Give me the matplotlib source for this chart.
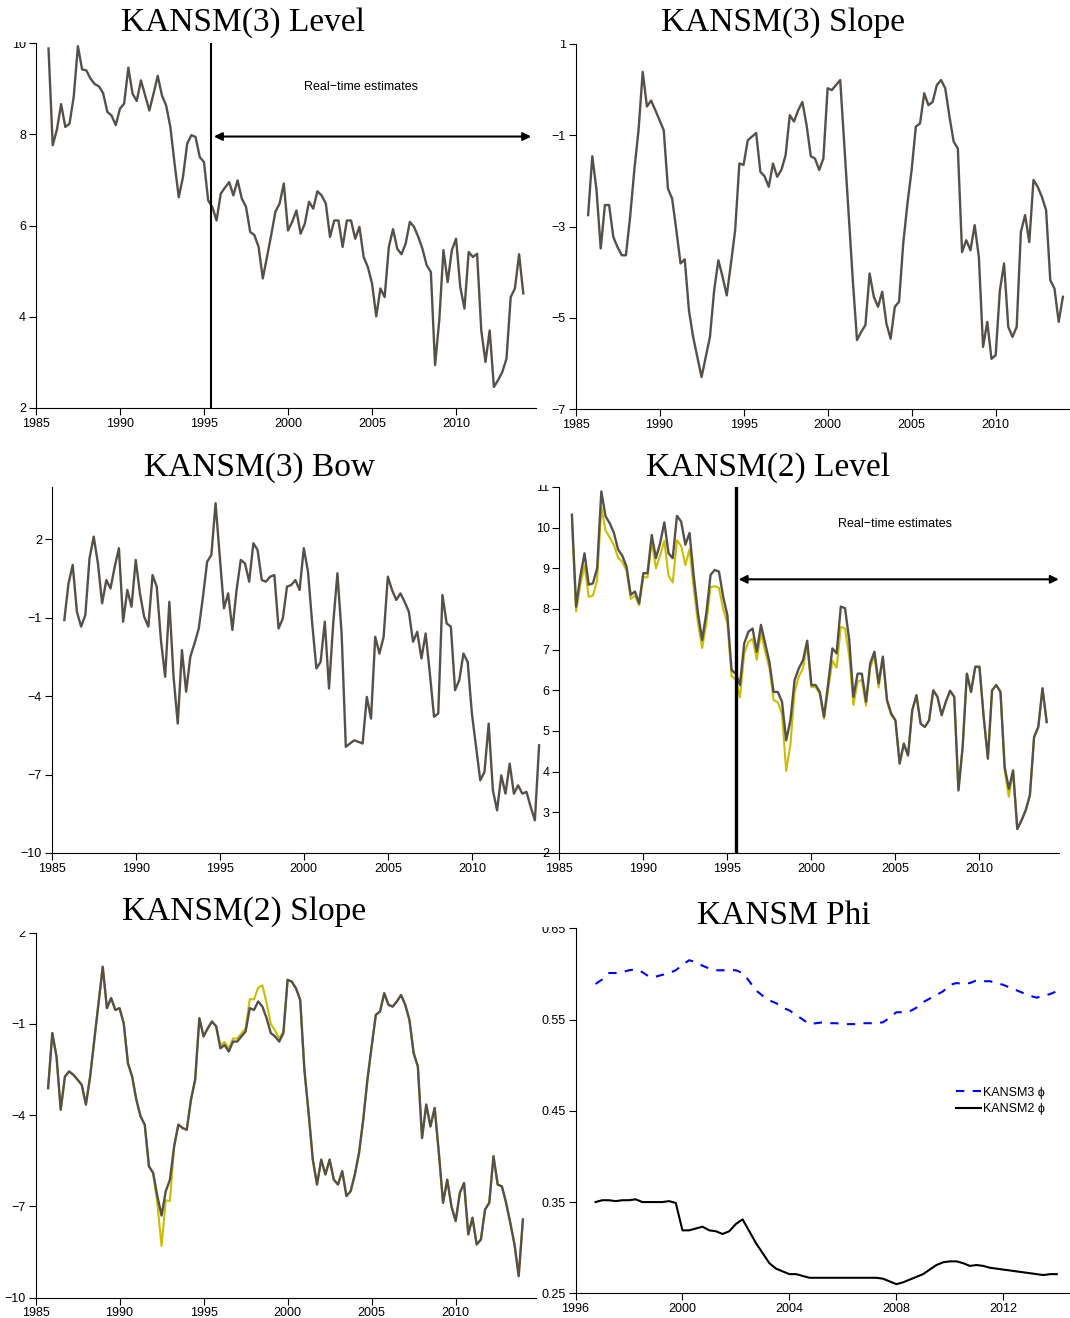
import numpy as np
import matplotlib
matplotlib.use("Agg")
import matplotlib.pyplot as plt
from matplotlib.patches import Rectangle

plt.rcParams['font.family'] = ['Liberation Sans', 'DejaVu Sans']

# quarterly real-time sample
quarters = np.arange(1985.75, 2014.01, 0.25)
phi_quarters = np.arange(1996.75, 2014.01, 0.25)

k3_level = [9.88, 7.76, 8.10, 8.66, 8.16, 8.23, 8.82, 9.93, 9.42, 9.40,
            9.22, 9.10, 9.05, 8.90, 8.49, 8.41, 8.20, 8.56, 8.67, 9.46,
            8.89, 8.73, 9.18, 8.85, 8.52, 8.89, 9.28, 8.85, 8.63, 8.16,
            7.36, 6.62, 7.06, 7.79, 7.98, 7.94, 7.50, 7.39, 6.55, 6.40,
            6.11, 6.70, 6.83, 6.95, 6.66, 6.99, 6.59, 6.41, 5.86, 5.79,
            5.53, 4.84, 5.31, 5.79, 6.30, 6.48, 6.92, 5.89, 6.08, 6.33,
            5.82, 6.04, 6.52, 6.37, 6.75, 6.66, 6.48, 5.75, 6.11, 6.11,
            5.53, 6.11, 6.11, 5.71, 5.97, 5.31, 5.09, 4.73, 4.01, 4.62,
            4.43, 5.53, 5.92, 5.49, 5.37, 5.60, 6.08, 5.97, 5.75, 5.49,
            5.13, 4.98, 2.94, 3.92, 5.46, 4.76, 5.46, 5.71, 4.65, 4.18,
            5.42, 5.31, 5.38, 3.70, 3.01, 3.70, 2.46, 2.61, 2.79, 3.08,
            4.43, 4.62, 5.37, 4.51]

k3_slope = [-2.75, -1.46, -2.20, -3.48, -2.53, -2.53, -3.23, -3.45, -3.63, -3.63,
            -2.79, -1.76, -0.89, 0.39, -0.37, -0.24, -0.45, -0.67, -0.89, -2.17,
            -2.39, -3.08, -3.81, -3.72, -4.84, -5.42, -5.86, -6.30, -5.86, -5.42,
            -4.40, -3.74, -4.10, -4.51, -3.81, -3.08, -1.62, -1.65, -1.11, -1.03,
            -0.95, -1.80, -1.90, -2.13, -1.62, -1.91, -1.76, -1.44, -0.56, -0.70,
            -0.45, -0.27, -0.78, -1.46, -1.51, -1.76, -1.51, 0.03, -0.01, 0.10,
            0.21, -1.25, -2.71, -4.18, -5.49, -5.31, -5.16, -4.03, -4.54, -4.76,
            -4.43, -5.13, -5.46, -4.76, -4.65, -3.37, -2.50, -1.76, -0.81, -0.74,
            -0.08, -0.34, -0.27, 0.10, 0.21, 0.03, -0.59, -1.14, -1.29, -3.56,
            -3.30, -3.52, -2.97, -3.67, -5.64, -5.09, -5.90, -5.82, -4.40, -3.81,
            -5.20, -5.42, -5.20, -3.12, -2.75, -3.34, -1.98, -2.13, -2.35, -2.64,
            -4.18, -4.36, -5.09, -4.54]

k3_bow = [-1.09, 0.31, 1.02, -0.77, -1.34, -0.90, 1.27, 2.10, 1.08, -0.45,
          0.44, 0.12, 0.95, 1.66, -1.15, 0.06, -0.58, 1.21, -0.07, -0.96,
          -1.34, 0.63, 0.19, -1.86, -3.26, -0.39, -3.26, -5.05, -2.24, -3.83,
          -2.49, -1.98, -1.41, -0.20, 1.14, 1.40, 3.38, 1.34, -0.64, -0.07,
          -1.47, 0.06, 1.21, 1.08, 0.38, 1.85, 1.59, 0.44, 0.38, 0.57,
          0.63, -1.41, -1.03, 0.19, 0.25, 0.44, 0.06, 1.66, 0.76, -1.22,
          -2.94, -2.69, -1.15, -3.71, -1.22, 0.70, -1.60, -5.94, -5.81, -5.69,
          -5.75, -5.81, -4.03, -4.86, -1.73, -2.37, -1.73, 0.57, 0.06, -0.32,
          -0.07, -0.39, -0.77, -1.92, -1.54, -2.56, -1.60, -3.13, -4.79, -4.66,
          -0.13, -1.22, -1.34, -3.77, -3.39, -2.37, -2.69, -4.66, -5.94, -7.22,
          -6.90, -5.05, -7.60, -8.37, -7.03, -7.73, -6.58, -7.73, -7.41, -7.73,
          -7.66, -8.24, -8.75, -5.88]

k2_level = [10.32, 8.06, 8.80, 9.37, 8.60, 8.63, 9.00, 10.89, 10.28, 10.11,
            9.87, 9.46, 9.31, 9.04, 8.35, 8.43, 8.14, 8.88, 8.88, 9.82,
            9.25, 9.62, 10.13, 9.37, 9.25, 10.29, 10.15, 9.58, 9.87, 8.80,
            7.90, 7.24, 7.90, 8.84, 8.96, 8.92, 8.30, 7.85, 6.50, 6.41,
            6.13, 7.15, 7.44, 7.52, 6.95, 7.61, 7.15, 6.70, 5.96, 5.96,
            5.72, 4.77, 5.26, 6.25, 6.54, 6.74, 7.22, 6.13, 6.13, 5.96,
            5.35, 6.17, 7.03, 6.91, 8.06, 8.02, 7.24, 5.84, 6.41, 6.41,
            5.72, 6.66, 6.95, 6.17, 6.83, 5.76, 5.43, 5.26, 4.20, 4.69,
            4.40, 5.51, 5.88, 5.18, 5.10, 5.26, 6.00, 5.84, 5.39, 5.72,
            5.99, 5.84, 3.54, 4.61, 6.41, 5.96, 6.58, 6.58, 5.35, 4.32,
            6.00, 6.13, 5.96, 4.11, 3.58, 4.03, 2.59, 2.80, 3.05, 3.42,
            4.85, 5.10, 6.05, 5.22]

# distance of the earliest vintage below the final estimate
k2_level_gap = [0.15, 0.12, 0.20, 0.30, 0.30, 0.30, 0.30, 0.40, 0.35, 0.35,
                0.30, 0.20, 0.15, 0.10, 0.10, 0.10, 0.05, 0.10, 0.10, 0.15,
                0.25, 0.30, 0.45, 0.55, 0.60, 0.60, 0.60, 0.50, 0.40, 0.30,
                0.25, 0.20, 0.25, 0.30, 0.40, 0.40, 0.30, 0.20, 0.15, 0.15,
                0.30, 0.25, 0.25, 0.25, 0.20, 0.20, 0.20, 0.15, 0.20, 0.25,
                0.30, 0.75, 0.60, 0.30, 0.20, 0.20, 0.10, 0.05, 0.05, 0.05,
                0.05, 0.15, 0.30, 0.35, 0.50, 0.50, 0.40, 0.20, 0.20, 0.15,
                0.10, 0.10, 0.10, 0.10, 0.05, 0.05, 0.05, 0.00, 0.00, 0.00,
                0.00, 0.00, 0.00, 0.00, 0.00, 0.00, 0.00, 0.00, 0.00, 0.00,
                0.00, 0.00, 0.00, 0.00, 0.00, 0.00, 0.00, 0.00, 0.00, 0.00,
                0.00, 0.00, 0.00, 0.10, 0.20, 0.00, 0.00, 0.00, 0.00, 0.00,
                0.00, 0.00, 0.00, 0.00]

k2_slope = [-3.11, -1.30, -2.07, -3.82, -2.73, -2.56, -2.67, -2.83, -3.00, -3.65,
            -2.73, -1.52, -0.32, 0.88, -0.48, -0.15, -0.54, -0.48, -0.98, -2.29,
            -2.73, -3.49, -4.04, -4.31, -5.68, -5.90, -6.66, -7.30, -6.50, -6.12,
            -5.02, -4.31, -4.42, -4.48, -3.49, -2.83, -0.81, -1.41, -1.14, -0.92,
            -1.08, -1.80, -1.69, -1.91, -1.58, -1.58, -1.41, -1.25, -0.48, -0.54,
            -0.26, -0.43, -0.81, -1.30, -1.41, -1.58, -1.30, 0.45, 0.39, 0.17,
            -0.21, -2.51, -3.93, -5.46, -6.28, -5.46, -5.95, -5.46, -6.12, -6.28,
            -5.84, -6.66, -6.50, -5.95, -5.24, -4.15, -2.83, -1.74, -0.70, -0.59,
            0.01, -0.37, -0.43, -0.26, -0.05, -0.37, -0.87, -1.96, -2.40, -4.75,
            -3.65, -4.37, -3.76, -5.24, -6.88, -6.12, -7.00, -7.48, -6.55, -6.23,
            -7.92, -7.37, -8.25, -8.09, -7.10, -6.88, -5.35, -6.28, -6.34, -6.88,
            -7.54, -8.25, -9.29, -7.43]

k2_slope_gap = [0.00, 0.00, 0.00, 0.00, 0.00, 0.00, 0.00, 0.00, 0.00, 0.00,
                0.00, 0.00, 0.00, 0.00, 0.00, 0.00, 0.00, 0.00, 0.00, 0.00,
                0.00, 0.00, 0.00, 0.00, 0.00, 0.00, 0.25, 1.00, 0.30, 0.70,
                0.00, 0.00, 0.00, 0.00, 0.00, 0.00, 0.00, 0.00, 0.00, 0.00,
                0.00, -0.10, -0.10, -0.10, -0.10, -0.10, -0.10, -0.10, -0.30, -0.35,
                -0.45, -0.70, -0.50, -0.30, -0.20, -0.10, -0.05, 0.00, 0.00, 0.00,
                0.00, 0.00, 0.00, 0.00, 0.00, 0.00, 0.00, 0.00, 0.00, 0.00,
                0.00, 0.00, 0.00, 0.00, 0.00, 0.00, 0.00, 0.00, 0.00, 0.00,
                0.00, 0.00, 0.00, 0.00, 0.00, 0.00, 0.00, 0.00, 0.00, 0.00,
                0.00, 0.00, 0.00, 0.00, 0.00, 0.00, 0.00, 0.00, 0.00, 0.00,
                0.00, 0.00, 0.00, 0.00, 0.00, 0.00, 0.00, 0.00, 0.00, 0.00,
                0.00, 0.00, 0.00, 0.00]

phi_k3 = [0.589, 0.594, 0.601, 0.601, 0.602, 0.604, 0.605, 0.602, 0.597, 0.597,
          0.599, 0.601, 0.604, 0.610, 0.615, 0.613, 0.609, 0.606, 0.604, 0.604,
          0.604, 0.604, 0.601, 0.592, 0.582, 0.576, 0.571, 0.568, 0.563, 0.560,
          0.555, 0.550, 0.545, 0.546, 0.547, 0.546, 0.546, 0.545, 0.545, 0.545,
          0.546, 0.546, 0.546, 0.547, 0.552, 0.558, 0.558, 0.559, 0.563, 0.569,
          0.573, 0.577, 0.581, 0.588, 0.590, 0.589, 0.590, 0.593, 0.592, 0.592,
          0.590, 0.588, 0.585, 0.582, 0.579, 0.576, 0.574, 0.576, 0.578, 0.581]

phi_k2 = [0.350, 0.352, 0.352, 0.351, 0.352, 0.352, 0.353, 0.350, 0.350, 0.350,
          0.350, 0.351, 0.349, 0.319, 0.319, 0.321, 0.323, 0.319, 0.318, 0.315,
          0.318, 0.326, 0.331, 0.318, 0.305, 0.294, 0.283, 0.277, 0.274, 0.271,
          0.271, 0.269, 0.267, 0.267, 0.267, 0.267, 0.267, 0.267, 0.267, 0.267,
          0.267, 0.267, 0.267, 0.266, 0.263, 0.260, 0.262, 0.265, 0.268, 0.271,
          0.276, 0.281, 0.284, 0.285, 0.285, 0.283, 0.280, 0.281, 0.280, 0.278,
          0.277, 0.276, 0.275, 0.274, 0.273, 0.272, 0.271, 0.270, 0.271, 0.271]

year_ticks = [1985, 1990, 1995, 2000, 2005, 2010]
phi_ticks = [1996, 2000, 2004, 2008, 2012]

MAIN = '#55504a'
EARLY = '#cbbd00'
LW = 1.7

W, H = 1070, 1318
fig = plt.figure(figsize=(W / 100, H / 100), dpi=100)


def add_panel(left, top, width, height):
    return fig.add_axes([left / W, 1 - (top + height) / H, width / W, height / H])


def style(ax, xlim, ylim, xticks, yticks):
    ax.set_xlim(*xlim)
    ax.set_ylim(*ylim)
    ax.set_xticks(xticks)
    ax.set_yticks(yticks)
    for s in ['top', 'right']:
        ax.spines[s].set_visible(False)
    for s in ['left', 'bottom']:
        ax.spines[s].set_linewidth(0.8)
    ax.tick_params(direction='out', length=5, width=0.8, labelsize=9, pad=2)
    ax.patch.set_alpha(0)


q = np.array(quarters)

# KANSM(3) Level
ax1 = add_panel(35.9, 43, 500, 365)
ax1.plot(q, k3_level, color=MAIN, lw=LW)
ax1.axvline(1995.4, color='black', lw=1.5)
ax1.annotate('', xy=(2014.47, 7.95), xytext=(1995.59, 7.95),
             arrowprops=dict(arrowstyle='<|-|>', color='black', lw=1.5,
                             mutation_scale=12, shrinkA=0, shrinkB=0))
ax1.text(2004.36, 9.03, 'Real\u2212time estimates', ha='center', va='center', fontsize=9)
style(ax1, (1985, 2014.75), (2, 10), year_ticks, [2, 4, 6, 8, 10])

# KANSM(3) Slope
ax2 = add_panel(575.5, 44, 500, 365)
ax2.plot(q, k3_slope, color=MAIN, lw=LW)
style(ax2, (1985, 2014.75), (-7, 1), year_ticks, [-7, -5, -3, -1, 1])

# KANSM(3) Bow
ax3 = add_panel(51.7, 487, 500, 366)
ax3.plot(q, k3_bow, color=MAIN, lw=LW, clip_on=False)
style(ax3, (1985, 2014.75), (-10, 4), year_ticks, [-10, -7, -4, -1, 2])

# KANSM(2) Level
ax4 = add_panel(559.3, 487, 500, 366)
ax4.plot(q, np.array(k2_level) - np.array(k2_level_gap), color=EARLY, lw=1.5)
ax4.plot(q, k2_level, color=MAIN, lw=LW)
ax4.axvline(1995.51, color='black', lw=2.4)
ax4.annotate('', xy=(2014.72, 8.73), xytext=(1995.67, 8.73),
             arrowprops=dict(arrowstyle='<|-|>', color='black', lw=1.5,
                             mutation_scale=12, shrinkA=0, shrinkB=0))
ax4.text(2004.95, 10.1, 'Real\u2212time estimates', ha='center', va='center', fontsize=9)
style(ax4, (1985, 2014.75), (2, 11), year_ticks, list(range(2, 12)))

# KANSM(2) Slope
ax5 = add_panel(35.5, 932.7, 500, 365)
ax5.plot(q, np.array(k2_slope) - np.array(k2_slope_gap), color=EARLY, lw=1.5)
ax5.plot(q, k2_slope, color=MAIN, lw=LW)
style(ax5, (1985, 2014.75), (-10, 2), year_ticks, [-10, -7, -4, -1, 2])

# KANSM Phi
ax6 = add_panel(575.5, 928.3, 500, 365)
ax6.plot(phi_quarters, phi_k3, color='blue', lw=1.5, ls=(0, (4, 4)), label='KANSM3 \u03d5')
ax6.plot(phi_quarters, phi_k2, color='black', lw=1.5, label='KANSM2 \u03d5')
style(ax6, (1996, 2014.7), (0.25, 0.65), phi_ticks, [0.25, 0.35, 0.45, 0.55, 0.65])
ax6.legend(loc='center left', bbox_to_anchor=(0.76, 0.527), frameon=False,
           fontsize=9, handlelength=2.0, handletextpad=0.2, labelspacing=0.35,
           borderpad=0, borderaxespad=0)

# white bands above the panels (they clip the top tick labels)
bands = [(0, 0, 535, 42), (540, 0, 1070, 40),
         (0, 436, 1070, 485),
         (0, 882, 540, 931), (540, 882, 1070, 927)]
for x0, top, x1, bottom in bands:
    fig.add_artist(Rectangle((x0 / W, 1 - bottom / H), (x1 - x0) / W, (bottom - top) / H,
                             transform=fig.transFigure, facecolor='white',
                             edgecolor='none', zorder=1))

titles = [('KANSM(3) Level', 243, 23), ('KANSM(3) Slope', 783, 23),
          ('KANSM(3) Bow', 259, 468), ('KANSM(2) Level', 768, 468),
          ('KANSM(2) Slope', 244, 912), ('KANSM Phi', 784, 916)]
for label, x, y in titles:
    fig.text(x / W, 1 - y / H, label, ha='center', va='center',
             family='Liberation Serif', fontsize=24, zorder=3)

fig.savefig('out.png', dpi=100)
